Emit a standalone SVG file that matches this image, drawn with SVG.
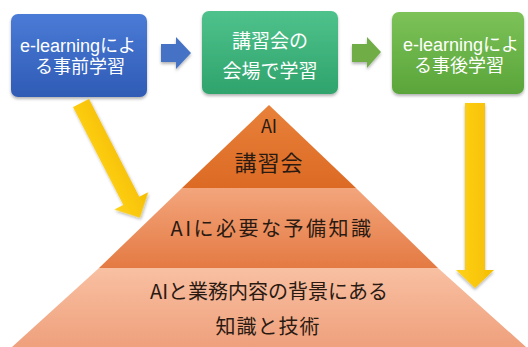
<svg xmlns="http://www.w3.org/2000/svg" width="528" height="347" viewBox="0 0 528 347">
  <defs>
    <linearGradient id="gBlue" x1="0" y1="0" x2="0" y2="1">
      <stop offset="0" stop-color="#4A7BD6"/>
      <stop offset="1" stop-color="#2F5BB5"/>
    </linearGradient>
    <linearGradient id="gGreen" x1="0" y1="0" x2="0" y2="1">
      <stop offset="0" stop-color="#4FC28C"/>
      <stop offset="1" stop-color="#2FA36C"/>
    </linearGradient>
    <linearGradient id="gLime" x1="0" y1="0" x2="0" y2="1">
      <stop offset="0" stop-color="#7CC258"/>
      <stop offset="1" stop-color="#5AA53A"/>
    </linearGradient>
    <linearGradient id="gT1" x1="0" y1="0" x2="0" y2="1">
      <stop offset="0" stop-color="#E8813A"/>
      <stop offset="1" stop-color="#DC6A24"/>
    </linearGradient>
    <linearGradient id="gT2" x1="0" y1="0" x2="0" y2="1">
      <stop offset="0" stop-color="#F3A57C"/>
      <stop offset="1" stop-color="#E47A43"/>
    </linearGradient>
    <linearGradient id="gT3" x1="0" y1="0" x2="0" y2="1">
      <stop offset="0" stop-color="#F8C0A2"/>
      <stop offset="1" stop-color="#EFA07C"/>
    </linearGradient>
    <linearGradient id="gYel" x1="0" y1="0" x2="1" y2="0">
      <stop offset="0" stop-color="#FFD21A"/>
      <stop offset="1" stop-color="#F5BE00"/>
    </linearGradient>
    <filter id="sh" x="-10%" y="-10%" width="130%" height="140%">
      <feDropShadow dx="0" dy="2" stdDeviation="1.6" flood-color="#000" flood-opacity="0.3"/>
    </filter>
  </defs>
  <style>
    .box { stroke: none; filter: url(#sh); }
    .wt { font-family: "Liberation Sans", "Noto Sans CJK JP", sans-serif; fill: #FFFFFF; text-anchor: middle; }
    .dt { font-family: "Noto Sans CJK JP", "Noto Sans", sans-serif; fill: #2A1A12; text-anchor: middle; }
    .yarrow { fill: url(#gYel); filter: url(#sh); }
  </style>

  <rect width="528" height="347" fill="#FFFFFF"/>

  <g id="tier3">
    <polygon points="99,268 438,268 526,347 12,347" fill="url(#gT3)"/>
    <text class="dt" x="269" y="299" font-size="20">AIと業務内容の背景にある</text>
    <text class="dt" x="268" y="334" font-size="20" letter-spacing="1">知識と技術</text>
  </g>
  <g id="tier2">
    <polygon points="182,188 356,188 438,268 99,268" fill="url(#gT2)"/>
    <text class="dt" x="272" y="236" font-size="20" letter-spacing="2.5">AIに必要な予備知識</text>
  </g>
  <g id="tier1">
    <polygon points="269,105 356,188 182,188" fill="url(#gT1)"/>
    <text class="dt" x="269" y="133" font-size="18">AI</text>
    <text class="dt" x="269" y="171" font-size="22" letter-spacing="1">講習会</text>
  </g>

  <g id="box1">
    <rect class="box" x="11" y="14" width="136" height="83" rx="7" fill="url(#gBlue)"/>
    <text class="wt" x="78" y="52" font-size="18">e-learningによ</text>
    <text class="wt" x="80" y="73" font-size="18">る事前学習</text>
  </g>
  <g id="box2">
    <rect class="box" x="202" y="11" width="136" height="83" rx="7" fill="url(#gGreen)"/>
    <text class="wt" x="270" y="48" font-size="19">講習会の</text>
    <text class="wt" x="270" y="78" font-size="19">会場で学習</text>
  </g>
  <g id="box3">
    <rect class="box" x="392" y="12" width="132" height="82" rx="7" fill="url(#gLime)"/>
    <text class="wt" x="461" y="51" font-size="18">e-learningによ</text>
    <text class="wt" x="459" y="72" font-size="18">る事後学習</text>
  </g>

  <g id="connectors">
    <polygon points="161,44 176,44 176,37 191,53 176,69 176,62 161,62" fill="#4472C4" filter="url(#sh)"/>
    <polygon points="352,44 367,44 367,37 381,52 367,68 367,62 352,62" fill="#70AD47" filter="url(#sh)"/>
    <polygon class="yarrow" transform="translate(81,103) rotate(-27.2)" points="-9,0 9,0 9,110 19,110 0,129 -19,110 -9,110"/>
    <polygon class="yarrow" points="465,103 485,103 485,270 494,270 475,288 456,270 465,270"/>
  </g>
</svg>
